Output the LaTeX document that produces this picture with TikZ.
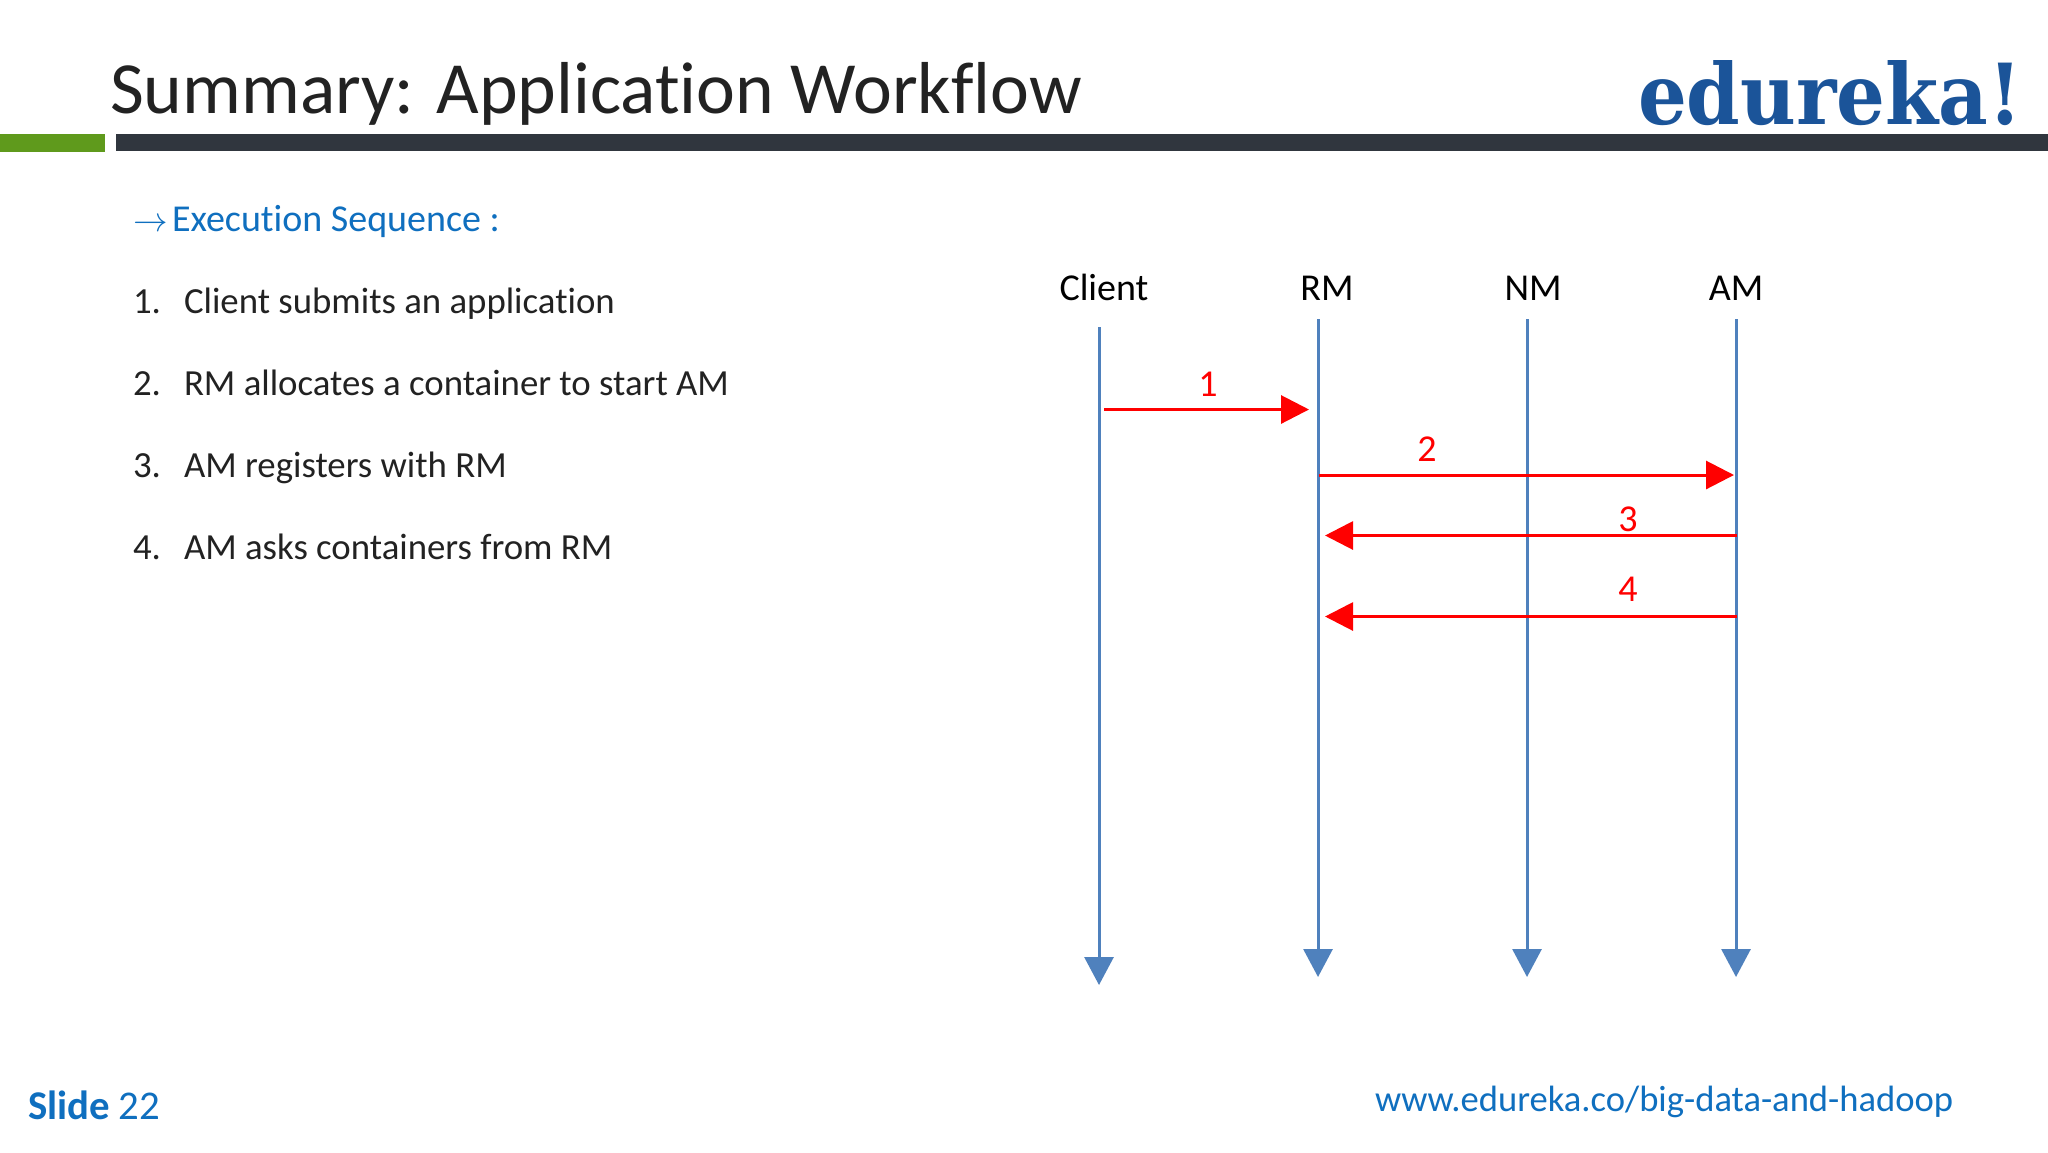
\documentclass[tikz,border=0pt]{standalone}
\usepackage{fontspec}
\setmainfont[RawFeature={-liga}]{Carlito}
\newfontfamily\logofont{DejaVu Serif}
\usetikzlibrary{arrows.meta}
\definecolor{lifeblue}{HTML}{4F81BD}
\definecolor{linkblue}{HTML}{0F6FBF}
\definecolor{logoblue}{HTML}{1B5499}
\definecolor{barDark}{HTML}{30363E}
\definecolor{barGreen}{HTML}{5F9A1C}
\definecolor{inkText}{HTML}{222222}
\tikzset{
  x=0.5pt, y=-0.5pt,
  lbl/.style={inner sep=0pt, outer sep=0pt, anchor=base west},
  bodytext/.style={lbl, text=inkText, font=\fontsize{18.4}{22}\selectfont},
  head/.style={inner sep=0pt, anchor=base, text=black, font=\fontsize{19}{22}\selectfont},
  num/.style={inner sep=0pt, text=red, font=\fontsize{19}{22}\selectfont},
  life/.style={draw=lifeblue, line width=1.5pt, -{Triangle[length=14pt,width=14.5pt]}},
  msg/.style={draw=red, line width=1.5pt, -{Triangle[length=14pt,width=14pt]}},
}
\begin{document}
\begin{tikzpicture}
\useasboundingbox (0,0) rectangle (2048,1152);
\fill[white] (0,0) rectangle (2048,1152);
% header
\fill[barGreen] (0,134) rectangle (105,152);
\fill[barDark] (116,134) rectangle (2048,151);
\node[lbl, text=inkText, font=\fontsize{36.8}{42}\selectfont] (title) at (110,113) {Summary: Application Workflow};
\node[lbl, text=logoblue] (logo) at (1638,124) {\resizebox{192pt}{32pt}{\logofont\bfseries\fontsize{42}{46}\selectfont edureka!}};
% left text
\node[lbl, text=linkblue, font=\fontsize{16.5}{20}\selectfont] (seqarrow) at (133,231) {$\rightarrow$};
\node[lbl, text=linkblue, font=\fontsize{19}{22}\selectfont] (seqhead) at (172,231) {Execution Sequence :};
\node[bodytext] (n1) at (133,313) {1.};\node[bodytext] (t1) at (184,313) {Client submits an application};
\node[bodytext] (n2) at (133,395) {2.};\node[bodytext] (t2) at (184,395) {RM allocates a container to start AM};
\node[bodytext] (n3) at (133,477) {3.};\node[bodytext] (t3) at (184,477) {AM registers with RM};
\node[bodytext] (n4) at (133,559) {4.};\node[bodytext] (t4) at (184,559) {AM asks containers from RM};
% column heads
\node[head] (hClient) at (1104,300) {Client};
\node[head] (hRM) at (1327,300) {RM};
\node[head] (hNM) at (1533,300) {NM};
\node[head] (hAM) at (1736,300) {AM};
% lifelines
\coordinate (cT) at (1099,327); \coordinate (cB) at (1099,985);
\coordinate (rT) at (1318,319); \coordinate (rB) at (1318,977);
\coordinate (nT) at (1527,319); \coordinate (nB) at (1527,977);
\coordinate (aT) at (1736,319); \coordinate (aB) at (1736,977);
\draw[life] (cT) -- (cB);
\draw[life] (rT) -- (rB);
\draw[life] (nT) -- (nB);
\draw[life] (aT) -- (aB);
% messages
\coordinate (m1a) at (1104,409.5); \coordinate (m1b) at (1309,409.5);
\coordinate (m2a) at (1319,475); \coordinate (m2b) at (1734,475);
\coordinate (m3a) at (1737,535.5); \coordinate (m3b) at (1325,535.5);
\coordinate (m4a) at (1737,616.5); \coordinate (m4b) at (1325,616.5);
\draw[msg] (m1a) -- (m1b);
\draw[msg] (m2a) -- (m2b);
\draw[msg] (m3a) -- (m3b);
\draw[msg] (m4a) -- (m4b);
\node[num] (l1) at (1208,384) {1};
\node[num] (l2) at (1427,449) {2};
\node[num] (l3) at (1628,519) {3};
\node[num] (l4) at (1628,589) {4};
% footer
\node[lbl, text=linkblue, font=\fontsize{20.4}{24}\selectfont] (slide) at (28,1119) {\textbf{Slide} 22};
\node[lbl, text=linkblue, font=\fontsize{18.3}{22}\selectfont] (url) at (1375,1111) {www.edureka.co/big-data-and-hadoop};
\end{tikzpicture}
\end{document}
